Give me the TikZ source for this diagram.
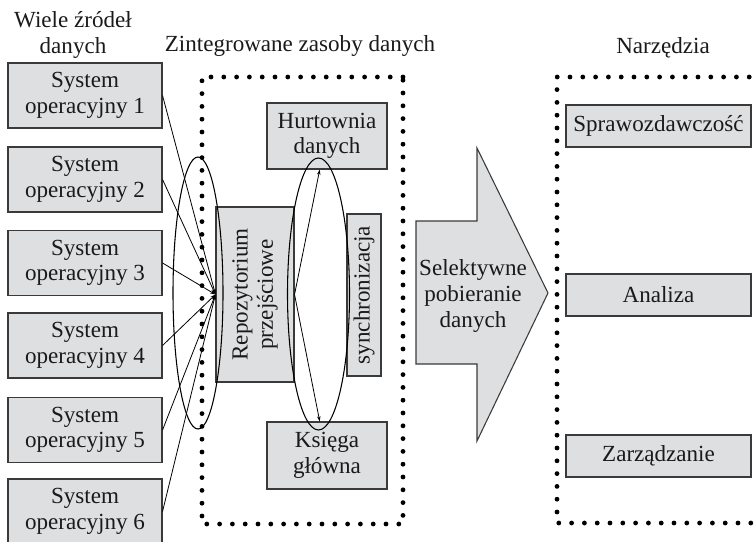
\documentclass[tikz,border=0pt]{standalone}
\usepackage{fontspec}
\setmainfont{Liberation Serif}
\usetikzlibrary{arrows.meta,calc}
\definecolor{boxfill}{HTML}{DEDFE0}
\definecolor{boxline}{HTML}{3A3A3A}
\definecolor{txt}{HTML}{1A1A1A}
\begin{document}
\begin{tikzpicture}[x=0.75pt,y=-0.75pt,
  every node/.style={font=\fontsize{17.3}{19}\selectfont, text=txt, inner sep=0pt},
  box/.style={draw=boxline, fill=boxfill, line width=0.8pt, align=center},
  srcbox/.style={box, minimum width=154*0.75pt, minimum height=65*0.75pt},
  dotline/.style={line width=3.6pt, line cap=round, dash pattern=on 0pt off 9.6pt, black},
  link/.style={line width=0.6pt, black, -{Stealth[length=4pt,width=2.6pt]}},
  oval/.style={line width=0.8pt, black}
]
\useasboundingbox (0,0) rectangle (756,542);

% titles
\node[align=center] (t1) at (73,35) {Wiele źródeł\\danych};
\node (t2) at (300,46) {Zintegrowane zasoby danych};
\node (t3) at (663,48) {Narzędzia};

% dotted frames
\draw[dotline] (403,77) -- (202,77) -- (202,524) -- (403,524) -- cycle;
\draw[dotline] (762,77) -- (557,77) -- (557,523) -- (762,523);

% source boxes
\node[srcbox] (s1) at (85,95.5) {System\\operacyjny 1};
\node[srcbox] (s2) at (85,179.5) {System\\operacyjny 2};
\node[srcbox] (s3) at (85,263) {System\\operacyjny 3};
\node[srcbox] (s4) at (85,345.5) {System\\operacyjny 4};
\node[srcbox] (s5) at (85,430) {System\\operacyjny 5};
\node[srcbox] (s6) at (85,511.5) {System\\operacyjny 6};

% central boxes
\node[box, minimum width=120*0.75pt, minimum height=66*0.75pt] (hd) at (327,136) {Hurtownia\\danych};
\node[box, minimum width=120*0.75pt, minimum height=67*0.75pt] (kg) at (327,455.5) {Księga\\główna};
\node[box, rotate=90, minimum width=175*0.75pt, minimum height=78*0.75pt] (rp) at (255,294.5) {Repozytorium\\przejściowe};
\node[box, rotate=90, minimum width=162*0.75pt, minimum height=34*0.75pt] (sy) at (364,295) {synchronizacja};

% ellipses
\draw[oval] (198,293) ellipse [x radius=18.75pt, y radius=102pt];
\draw[oval] (318.5,294) ellipse [x radius=23.25pt, y radius=102pt];

% connectors
\foreach \s in {s1,s2,s3,s4,s5,s6}
  \draw[link] (\s.east) -- (rp.north);
\draw[link] (rp.south) -- ($(hd.south west)!0.44!(hd.south east)$);
\draw[link] (rp.south) -- ($(kg.north west)!0.44!(kg.north east)$);

% big arrow
\draw[draw=boxline, fill=boxfill, line width=0.8pt] (416,221) -- (477,221) -- (477,148) -- (548,293) -- (477,441) -- (477,364) -- (416,364) -- cycle;
\node[align=center, font=\fontsize{17.3}{19.5}\selectfont] (sel) at (473,296) {Selektywne\\pobieranie\\danych};

% tools
\node[box, minimum width=185*0.75pt, minimum height=42*0.75pt] (n1) at (658.5,126) {Sprawozdawczość};
\node[box, minimum width=185*0.75pt, minimum height=42*0.75pt] (n2) at (658.5,295) {Analiza};
\node[box, minimum width=185*0.75pt, minimum height=42*0.75pt] (n3) at (658.5,456) {Zarządzanie};
\end{tikzpicture}
\end{document}
